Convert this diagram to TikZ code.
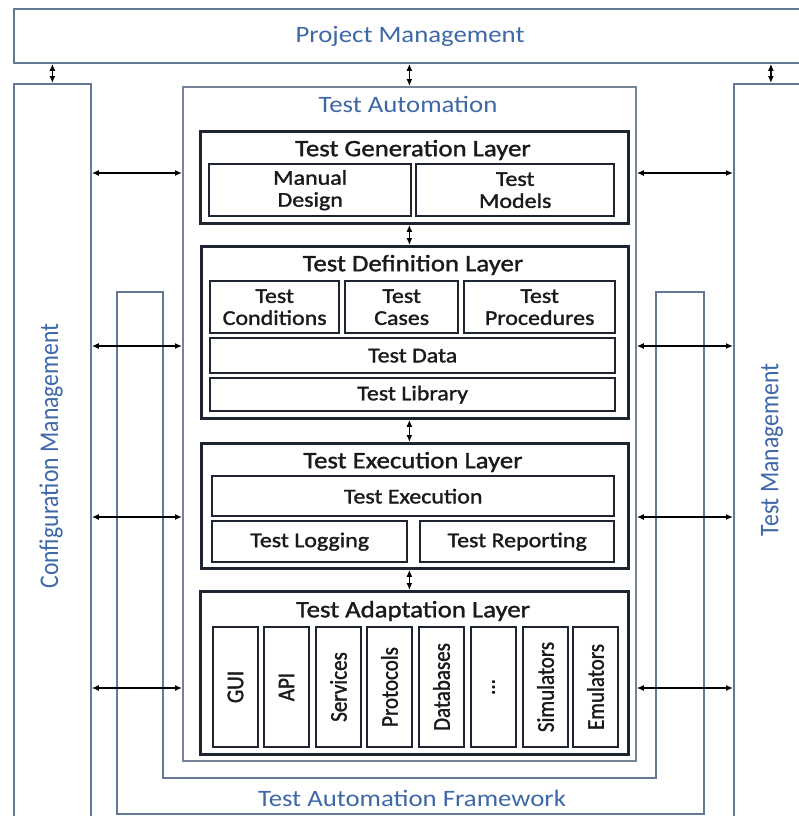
\documentclass[tikz,border=0pt]{standalone}
\usepackage{fontspec}
\setmainfont{Carlito}[FakeStretch=1.14]
\newfontfamily\rotfont{Carlito}[FakeStretch=0.877]
\newfontfamily\inkfont{Carlito}[FakeStretch=1.14,FakeBold=1.4]
\newfontfamily\inkrot{Carlito}[FakeStretch=0.877,FakeBold=1.4]
\usetikzlibrary{arrows.meta}
\definecolor{titleblue}{RGB}{62,104,166}
\definecolor{frameline}{RGB}{100,120,152}
\definecolor{taline}{RGB}{118,132,150}
\definecolor{layerline}{RGB}{30,36,50}
\definecolor{inktext}{RGB}{26,26,30}
\newcommand{\tileellipsis}{...}

\begin{document}
\begin{tikzpicture}[x=1pt,y=-1pt,
  outerbox/.style={draw=frameline, line width=1.8pt, rectangle, anchor=north west, inner sep=0pt},
  tabox/.style={draw=taline, line width=1.8pt, rectangle, anchor=north west, inner sep=0pt},
  layerbox/.style={draw=layerline, line width=2.8pt, rectangle, anchor=north west, inner sep=0pt},
  subbox/.style={draw=layerline, line width=2.4pt, rectangle, anchor=north west, inner sep=0pt,
    text=inktext, align=center, font=\inkfont\fontsize{21}{22}\selectfont},
  tilebox/.style={draw=layerline, line width=2.4pt, rectangle, inner sep=0pt, rotate=90,
    text=inktext, font=\inkrot\fontsize{24}{26}\selectfont},
  bluetitle/.style={text=titleblue, inner sep=0pt, font=\fontsize{23.5}{26}\selectfont},
  bluerot/.style={text=titleblue, inner sep=0pt, rotate=90, font=\rotfont\fontsize{27}{29}\selectfont},
  layertitle/.style={text=inktext, inner sep=0pt, font=\inkfont\fontsize{23.5}{26}\selectfont},
  arr/.style={{Latex[length=7pt,width=6pt]}-{Latex[length=7pt,width=6pt]}, line width=1.4pt, draw=black}
]
\useasboundingbox (0,0) rectangle (799,816);
\fill[white] (0,0) rectangle (799,816);
\clip (0,0) rectangle (799,816);

% surrounding management boxes (they run past the page edges)
\node[outerbox, minimum width=802, minimum height=54] (pm) at (13,8) {};
\node[bluetitle] (pmt) at (410,36) {Project Management};
\node[outerbox, minimum width=77, minimum height=760] (cm) at (13,83) {};
\node[bluerot] (cmt) at (51,456) {Configuration Management};
\node[outerbox, minimum width=74, minimum height=760] (tm) at (733,83) {};
\node[bluerot] (tmt) at (772,450) {Test Management};

% U-shaped test automation framework
\draw[frameline, line width=1.8pt] (117,292) -- (117,814) -- (704,814) -- (704,292)
  -- (656,292) -- (656,778) -- (163,778) -- (163,292) -- cycle;
\node[bluetitle] (taf) at (412,798) {Test Automation Framework};

% test automation block
\node[tabox, minimum width=453, minimum height=674] (ta) at (182,86) {};
\node[bluetitle] (tat) at (408,104) {Test Automation};

% generation layer
\node[layerbox, minimum width=428, minimum height=92] (gen) at (199,130) {};
\node[layertitle] (gent) at (413,150) {Test Generation Layer};
\node[subbox, minimum width=202, minimum height=52] (man) at (208,163) {Manual\\Design};
\node[subbox, minimum width=198, minimum height=52] (mod) at (415,163) {Test\\Models};

% definition layer
\node[layerbox, minimum width=427, minimum height=172] (def) at (200,245) {};
\node[layertitle] (deft) at (413,265) {Test Definition Layer};
\node[subbox, minimum width=129, minimum height=52] (cond) at (209,280) {Test\\Conditions};
\node[subbox, minimum width=113, minimum height=52] (cases) at (344,280) {Test\\Cases};
\node[subbox, minimum width=151, minimum height=52] (proc) at (463,280) {Test\\Procedures};
\node[subbox, minimum width=405, minimum height=35] (data) at (209,337) {Test Data};
\node[subbox, minimum width=405, minimum height=33] (lib) at (209,377) {Test Library};

% execution layer
\node[layerbox, minimum width=427, minimum height=125] (exe) at (200,442) {};
\node[layertitle] (exet) at (413,462) {Test Execution Layer};
\node[subbox, minimum width=402, minimum height=40] (exec) at (211,475) {Test Execution};
\node[subbox, minimum width=195, minimum height=41] (log) at (211,520) {Test Logging};
\node[subbox, minimum width=194, minimum height=41] (rep) at (419,520) {Test Reporting};

% adaptation layer
\node[layerbox, minimum width=428, minimum height=163] (ada) at (199,590) {};
\node[layertitle] (adat) at (413,611) {Test Adaptation Layer};
\foreach \i/\x/\t in {1/213/GUI, 2/264/API, 3/316/Services, 4/367/Protocols,
                      5/419/Databases, 6/471/\tileellipsis, 7/523/Simulators, 8/573/Emulators}
  \node[tilebox, minimum width=120, minimum height=45] (ad\i) at ({\x+22.5},687) {\t};

% connectors
\coordinate (r1) at (0,173);
\coordinate (r2) at (0,346);
\coordinate (r3) at (0,517);
\coordinate (r4) at (0,688);
\draw[arr] (pm.south -| cm.north) -- (cm.north);
\draw[arr] (pm.south -| ta.north) -- (ta.north);
\draw[arr] (pm.south -| tm.north) -- (tm.north);
\draw[arr] (gen.south -| ta.north) -- (def.north -| ta.north);
\draw[arr] (def.south -| ta.north) -- (exe.north -| ta.north);
\draw[arr] (exe.south -| ta.north) -- (ada.north -| ta.north);
\foreach \r in {r1,r2,r3,r4} {
  \draw[arr] (cm.east |- \r) -- (ta.west |- \r);
  \draw[arr] (ta.east |- \r) -- (tm.west |- \r);
}
\end{tikzpicture}
\end{document}
